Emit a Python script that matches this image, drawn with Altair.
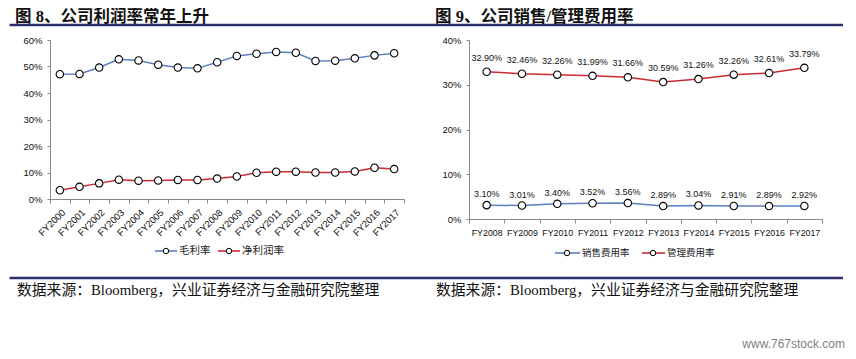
import altair as alt
import pandas as pd

# ---------------- data ----------------
years_l = ["FY2000", "FY2001", "FY2002", "FY2003", "FY2004", "FY2005", "FY2006",
           "FY2007", "FY2008", "FY2009", "FY2010", "FY2011", "FY2012", "FY2013",
           "FY2014", "FY2015", "FY2016", "FY2017"]
gross = [47.1, 47.2, 49.6, 52.7, 52.3, 50.7, 49.6, 49.3, 51.6, 54.0, 54.8, 55.5,
         55.2, 52.1, 52.2, 53.1, 54.2, 55.0]
net = [3.3, 4.6, 5.9, 7.3, 6.9, 7.0, 7.2, 7.2, 7.7, 8.5, 9.9, 10.3, 10.3, 10.0,
       10.0, 10.4, 11.8, 11.3]
names_l = ["毛利率", "净利润率"]
yticks_l = [0, 10, 20, 30, 40, 50, 60]

years_r = ["FY2008", "FY2009", "FY2010", "FY2011", "FY2012", "FY2013", "FY2014",
           "FY2015", "FY2016", "FY2017"]
selling = [3.10, 3.01, 3.40, 3.52, 3.56, 2.89, 3.04, 2.91, 2.89, 2.92]
admin = [32.90, 32.46, 32.26, 31.99, 31.66, 30.59, 31.26, 32.26, 32.61, 33.79]
names_r = ["销售费用率", "管理费用率"]
yticks_r = [0, 10, 20, 30, 40]

title_l = "图 8、公司利润率常年上升"
title_r = "图 9、公司销售/管理费用率"
source = "数据来源：Bloomberg，兴业证券经济与金融研究院整理"
watermark = "www.767stock.com"

# ---------------- style ----------------
BLUE = "#5b7fc0"
RED = "#cc2a30"
NAVY = "#2d2f6c"
AX = "#8a8a8a"
SANS = "Liberation Sans, Noto Sans CJK SC"
CJK = "Noto Sans CJK SC"
SERIF = "Liberation Serif, Noto Sans CJK SC"

df_l = pd.DataFrame({
    "year": years_l * 2,
    "series": [names_l[0]] * len(years_l) + [names_l[1]] * len(years_l),
    "v": gross + net,
})
df_r = pd.DataFrame({
    "year": years_r * 2,
    "series": [names_r[0]] * len(years_r) + [names_r[1]] * len(years_r),
    "v": selling + admin,
})


def one(t):
    return pd.DataFrame({"t": [t]})


def legend_item(name, color, x0, x1, cx, tx, y, fs, font):
    rule = alt.Chart(one(name)).mark_rule(color=color, strokeWidth=1.6).encode(
        x=alt.value(x0), x2=alt.value(x1), y=alt.value(y))
    pt = alt.Chart(one(name)).mark_point(
        shape="circle", filled=True, fill="white", stroke="black",
        strokeWidth=1, size=30, opacity=1).encode(x=alt.value(cx), y=alt.value(y))
    txt = alt.Chart(one(name)).mark_text(
        align="left", baseline="middle", fontSize=fs, font=font, color="#222").encode(
        x=alt.value(tx), y=alt.value(y), text="t:N")
    return [rule, pt, txt]


def panel(df, years, names, yticks, ymax, label_angle, xlabel_pad, xfs):
    x = alt.X("year:N", sort=years,
              scale=alt.Scale(type="band", paddingInner=0, paddingOuter=0),
              axis=alt.Axis(title=None, labelAngle=label_angle, tickBand="extent",
                            tickSize=4, labelPadding=xlabel_pad, labelFontSize=xfs,
                            labelFont=SANS, labelColor="#111", domainColor=AX,
                            tickColor=AX, grid=False))
    y = alt.Y("v:Q", scale=alt.Scale(domain=[0, ymax], nice=False),
              axis=alt.Axis(title=None, values=yticks, labelExpr="datum.value + '%'",
                            tickSize=3, labelPadding=5, labelFontSize=9.5,
                            labelFont=SANS, labelColor="#111", domainColor=AX,
                            tickColor=AX, grid=False))
    color = alt.Color("series:N", scale=alt.Scale(domain=names, range=[BLUE, RED]),
                      legend=None)
    lines = alt.Chart(df).mark_line(strokeWidth=1.5).encode(x=x, y=y, color=color,
                                                            detail="series:N")
    points = alt.Chart(df).mark_point(
        shape="circle", filled=True, fill="white", stroke="black", strokeWidth=1.1,
        size=55, opacity=1).encode(x=x, y=y, detail="series:N")
    return [lines, points]


W_L, H_L = 354, 159
W_R, H_R = 353, 179

# ---------------- left panel ----------------
left_layers = panel(df_l, years_l, names_l, yticks_l, 60, -45, 4, 9.5)
left_layers += [
    alt.Chart(one(title_l)).mark_text(align="left", baseline="top", fontSize=16.5,
                                      fontWeight="bold", font=SERIF, color="#111").encode(
        x=alt.value(-35), y=alt.value(-31), text="t:N"),
    alt.Chart(one("top")).mark_rule(color=NAVY, strokeWidth=2.7).encode(
        x=alt.value(-40.5), x2=alt.value(793), y=alt.value(-15)),
    alt.Chart(one("bottom")).mark_rule(color=NAVY, strokeWidth=2.7).encode(
        x=alt.value(-40.5), x2=alt.value(793), y=alt.value(238)),
    alt.Chart(one(source)).mark_text(align="left", baseline="alphabetic", fontSize=14.8,
                                     font=SERIF, color="#111").encode(
        x=alt.value(-33), y=alt.value(255), text="t:N"),
]
left_layers += legend_item(names_l[0], BLUE, 105, 127, 116, 129, 211, 10.5, CJK)
left_layers += legend_item(names_l[1], RED, 168, 190, 179, 192, 211, 10.5, CJK)
left = alt.layer(*left_layers).properties(width=W_L, height=H_L)

# ---------------- right panel ----------------
right_layers = panel(df_r, years_r, names_r, yticks_r, 40, 0, 5, 8.8)
lab_x = alt.X("year:N", sort=years_r,
              scale=alt.Scale(type="band", paddingInner=0, paddingOuter=0))
lab_y = alt.Y("v:Q", scale=alt.Scale(domain=[0, 40], nice=False))
right_layers += [
    alt.Chart(df_r).transform_filter(alt.datum.series == names_r[1]).transform_calculate(
        label="format(datum.v, '.2f') + '%'").mark_text(
        fontSize=9, font=SANS, color="#111", dy=-14).encode(
        x=lab_x, y=lab_y, text="label:N"),
    alt.Chart(df_r).transform_filter(alt.datum.series == names_r[0]).transform_calculate(
        label="format(datum.v, '.2f') + '%'").mark_text(
        fontSize=9, font=SANS, color="#111", dy=-11).encode(
        x=lab_x, y=lab_y, text="label:N"),
    alt.Chart(one(title_r)).mark_text(align="left", baseline="top", fontSize=16.5,
                                      fontWeight="bold", font=SERIF, color="#111").encode(
        x=alt.value(-34), y=alt.value(-31), text="t:N"),
    alt.Chart(one(source)).mark_text(align="left", baseline="alphabetic", fontSize=14.8,
                                     font=SERIF, color="#111").encode(
        x=alt.value(-33), y=alt.value(255), text="t:N"),
    alt.Chart(one(watermark)).mark_text(align="right", baseline="alphabetic", fontSize=12,
                                        font="Liberation Sans", color="#808080").encode(
        x=alt.value(376), y=alt.value(308), text="t:N"),
]
right_layers += legend_item(names_r[0], BLUE, 86, 111, 98, 113, 213, 9.5, CJK)
right_layers += legend_item(names_r[1], RED, 173, 196, 184, 198, 213, 9.5, CJK)
right = alt.layer(*right_layers).properties(width=W_R, height=H_R)

chart = alt.hconcat(left, right, spacing=65, bounds="flush").properties(
    padding={"left": 0, "top": 1, "right": 0, "bottom": 0}
).configure_view(stroke=None)

chart.save("out.html", embed_options={"renderer": "svg", "actions": False})
